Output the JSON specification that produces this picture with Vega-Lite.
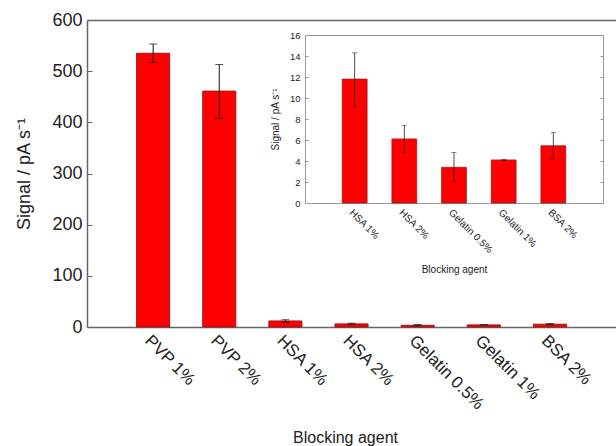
{
  "$schema": "https://vega.github.io/schema/vega-lite/v6.json",
  "width": 529,
  "height": 307,
  "autosize": "none",
  "padding": {"left": 87, "top": 20, "right": 0, "bottom": 119},
  "datasets": {
    "main": [
      {"agent": "PVP 1%", "signal": 535, "lo": 517, "hi": 553},
      {"agent": "PVP 2%", "signal": 461, "lo": 408, "hi": 513},
      {"agent": "HSA 1%", "signal": 11.8, "lo": 9.2, "hi": 14.3},
      {"agent": "HSA 2%", "signal": 6.1, "lo": 4.8, "hi": 7.4},
      {"agent": "Gelatin 0.5%", "signal": 3.4, "lo": 2.0, "hi": 4.8},
      {"agent": "Gelatin 1%", "signal": 4.1, "lo": 4.05, "hi": 4.15},
      {"agent": "BSA 2%", "signal": 5.45, "lo": 4.2, "hi": 6.7}
    ],
    "inset": [
      {"agent": "HSA 1%", "signal": 11.8, "lo": 9.2, "hi": 14.3},
      {"agent": "HSA 2%", "signal": 6.1, "lo": 4.8, "hi": 7.4},
      {"agent": "Gelatin 0.5%", "signal": 3.4, "lo": 2.0, "hi": 4.8},
      {"agent": "Gelatin 1%", "signal": 4.1, "lo": 4.05, "hi": 4.15},
      {"agent": "BSA 2%", "signal": 5.45, "lo": 4.2, "hi": 6.7}
    ]
  },
  "config": {
    "view": {"stroke": null},
    "font": "Liberation Sans",
    "axis": {
      "grid": false,
      "labelColor": "#222222",
      "titleColor": "#222222",
      "titleFontWeight": "normal",
      "domainColor": "#666666",
      "tickColor": "#666666",
      "labelFont": "Liberation Sans",
      "titleFont": "Liberation Sans"
    }
  },
  "layer": [
    {
      "data": {"name": "main"},
      "layer": [
        {
          "mark": {"type": "bar", "color": "#ff0000", "stroke": "#9a1a1a", "strokeWidth": 1},
          "encoding": {
            "x": {
              "field": "agent", "type": "nominal", "sort": null,
              "scale": {"paddingInner": 0.5, "paddingOuter": 0.75},
              "axis": {
                "orient": "bottom", "title": "Blocking agent",
                "labelAngle": 45, "labelAlign": "left", "labelBaseline": "top",
                "labelFontSize": 17, "labelPadding": 5, "ticks": false,
                "domainWidth": 1.5, "titleFontSize": 16, "titlePadding": 17, "titleX": 258
              }
            },
            "y": {
              "field": "signal", "type": "quantitative",
              "scale": {"domain": [0, 600], "nice": false},
              "axis": {
                "title": "Signal / pA s⁻¹",
                "values": [0, 100, 200, 300, 400, 500, 600],
                "tickSize": -5, "labelPadding": 10, "labelFontSize": 18,
                "titleFontSize": 18, "domainWidth": 1.5, "titlePadding": 18
              }
            }
          }
        },
        {
          "mark": {"type": "rule", "color": "#111111", "strokeWidth": 1},
          "encoding": {
            "x": {
              "field": "agent", "type": "nominal", "sort": null,
              "axis": {"orient": "top", "labels": false, "ticks": false, "title": null, "domainWidth": 1.5}
            },
            "y": {"field": "lo", "type": "quantitative", "axis": {"title": "Signal / pA s⁻¹"}},
            "y2": {"field": "hi"}
          }
        },
        {
          "mark": {"type": "tick", "color": "#111111", "thickness": 1, "size": 8},
          "encoding": {
            "x": {"field": "agent", "type": "nominal", "sort": null, "axis": null},
            "y": {"field": "lo", "type": "quantitative", "axis": {"title": "Signal / pA s⁻¹"}}
          }
        },
        {
          "mark": {"type": "tick", "color": "#111111", "thickness": 1, "size": 8},
          "encoding": {
            "x": {"field": "agent", "type": "nominal", "sort": null, "axis": null},
            "y": {"field": "hi", "type": "quantitative", "axis": {"title": "Signal / pA s⁻¹"}}
          }
        }
      ],
      "resolve": {"axis": {"x": "independent"}}
    },
    {
      "data": {"name": "inset"},
      "layer": [
        {
          "mark": {"type": "bar", "color": "#ff0000", "stroke": "#9a1a1a", "strokeWidth": 0.8},
          "encoding": {
            "x": {
              "field": "agent", "type": "nominal", "sort": null,
              "scale": {"range": [218, 516], "paddingInner": 0.5, "paddingOuter": 0.75},
              "axis": {
                "orient": "bottom", "offset": -124, "title": "Blocking agent",
                "labelAngle": 45, "labelAlign": "left", "labelBaseline": "top",
                "labelFontSize": 10, "labelPadding": 4, "ticks": false,
                "domainColor": "#999999", "titleFontSize": 10, "titlePadding": 10
              }
            },
            "y": {
              "field": "signal", "type": "quantitative",
              "scale": {"domain": [0, 16], "nice": false, "range": [183, 15]},
              "axis": {
                "orient": "left", "offset": -218,
                "title": "Signal / pA s⁻¹",
                "values": [0, 2, 4, 6, 8, 10, 12, 14, 16],
                "tickSize": -3, "labelPadding": 8, "labelFontSize": 9.5,
                "titleFontSize": 10, "domainColor": "#999999", "tickColor": "#999999", "titlePadding": 9
              }
            }
          }
        },
        {
          "mark": {"type": "rule", "color": "#222222", "strokeWidth": 0.8},
          "encoding": {
            "x": {
              "field": "agent", "type": "nominal", "sort": null,
              "axis": {"orient": "top", "offset": -15, "labels": false, "ticks": false, "title": null, "domainColor": "#999999"}
            },
            "y": {
              "field": "lo", "type": "quantitative",
              "axis": {
                "orient": "right", "offset": -13, "labels": false, "title": null,
                "values": [0, 2, 4, 6, 8, 10, 12, 14, 16],
                "tickSize": -3, "domainColor": "#999999", "tickColor": "#999999"
              }
            },
            "y2": {"field": "hi"}
          }
        },
        {
          "mark": {"type": "tick", "color": "#222222", "thickness": 0.8, "size": 5},
          "encoding": {
            "x": {"field": "agent", "type": "nominal", "sort": null, "axis": null},
            "y": {"field": "lo", "type": "quantitative", "axis": null}
          }
        },
        {
          "mark": {"type": "tick", "color": "#222222", "thickness": 0.8, "size": 5},
          "encoding": {
            "x": {"field": "agent", "type": "nominal", "sort": null, "axis": null},
            "y": {"field": "hi", "type": "quantitative", "axis": null}
          }
        }
      ],
      "resolve": {"axis": {"x": "independent", "y": "independent"}}
    }
  ],
  "resolve": {"scale": {"x": "independent", "y": "independent"}}
}
